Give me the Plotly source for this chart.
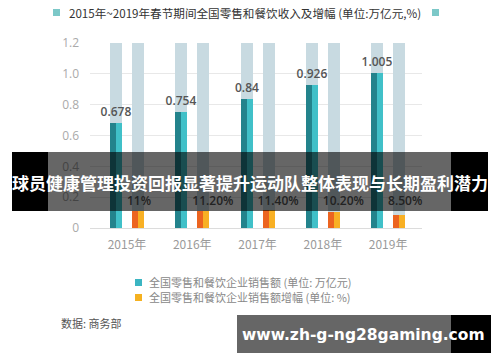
import plotly.graph_objects as go

years = ["2015年", "2016年", "2017年", "2018年", "2019年"]
sales = [0.678, 0.754, 0.84, 0.926, 1.005]          # 万亿元
growth = [11.0, 11.2, 11.4, 10.2, 8.5]              # %
growth_labels = ["11%", "11.20%", "11.40%", "10.20%", "8.50%"]
sales_labels = ["0.678", "0.754", "0.84", "0.926", "1.005"]
y_ticks = [0, 0.2, 0.4, 0.6, 0.8, 1.0, 1.2]
y_ticktext = ["0", "0.2", "0.4", "0.6", "0.8", "1.0", "1.2"]
axis_max = 1.2

title = "2015年~2019年春节期间全国零售和餐饮收入及增幅 (单位:万亿元,%)"
legend_sales = "全国零售和餐饮企业销售额 (单位: 万亿元)"
legend_growth = "全国零售和餐饮企业销售额增幅 (单位: %)"
source = "数据: 商务部"
banner = "球员健康管理投资回报显著提升运动队整体表现与长期盈利潜力"
url = "www.zh-g-ng28gaming.com"

xs = list(range(len(years)))
growth_scaled = [g / 100 for g in growth]
bg = [axis_max] * len(years)

# page offset (body margin) compensation
OFF = 8
FW, FH = 500 - OFF, 362 - OFF
PL, PR, PT, PB = 90 - OFF, 422 - OFF, 43 - OFF, 228 - OFF  # plot box in figure px
PW, PH = PR - PL, PB - PT

BW = 0.184   # full bar width (x units)
HW = BW / 2
T_OFF = -0.26
O_OFF = 0.077

fig = go.Figure()
# background bars
fig.add_bar(x=xs, y=bg, offset=T_OFF, width=BW, marker_color="#c8dae1",
            marker_line_width=0, hoverinfo="skip")
fig.add_bar(x=xs, y=bg, offset=O_OFF, width=BW, marker_color="#c8dae1",
            marker_line_width=0, hoverinfo="skip")
# teal sales bars (dark full + light right half)
fig.add_bar(x=xs, y=sales, offset=T_OFF, width=BW, marker_color="#23838c",
            marker_line_width=0, text=sales_labels, textposition="outside",
            constraintext="none",
            textfont=dict(size=12, color="#555555", family="Open Sans", weight=600),
            cliponaxis=False)
fig.add_bar(x=xs, y=sales, offset=T_OFF + HW, width=HW, marker_color="#40c0c8",
            marker_line_width=0)
# orange growth bars
fig.add_bar(x=xs, y=growth_scaled, offset=O_OFF, width=BW, marker_color="#ec6420",
            marker_line_width=0)
fig.add_bar(x=xs, y=growth_scaled, offset=O_OFF + HW, width=HW, marker_color="#f8b024",
            marker_line_width=0)
# growth labels
fig.add_scatter(x=xs, y=[0.17] * len(xs), mode="text", text=growth_labels,
                textposition="middle right",
                textfont=dict(size=12, color="#555555", family="Open Sans", weight=600),
                cliponaxis=False)

fig.update_layout(
    width=FW, height=FH,
    margin=dict(l=PL, r=FW - PR, t=PT, b=FH - PB),
    paper_bgcolor="white", plot_bgcolor="white",
    barmode="overlay", showlegend=False, bargap=0,
    font=dict(family="Noto Sans CJK SC", color="#999999"),
    xaxis=dict(range=[-0.567, 4.52], tickvals=xs, ticktext=years,
               showgrid=False, zeroline=False, showline=False,
               tickfont=dict(size=12, color="#9a9a9a"), ticks="", ticklabelstandoff=8),
    yaxis=dict(range=[0, axis_max], tickvals=y_ticks, ticktext=y_ticktext,
               showgrid=True, gridcolor="#e8e8e8", gridwidth=1,
               zeroline=True, zerolinecolor="#dcdcdc", zerolinewidth=1,
               showline=False, ticks="", ticklabelstandoff=10,
               tickfont=dict(size=12, color="#aaaaaa", family="Open Sans")),
)


def px_rect(x0, y0, x1, y1, color, layer="above"):
    # coordinates given in page pixels
    x0 -= OFF; x1 -= OFF; y0 -= OFF; y1 -= OFF
    return dict(type="rect", xref="paper", yref="paper",
                x0=(x0 - PL) / PW, x1=(x1 - PL) / PW,
                y0=(PB - y1) / PH, y1=(PB - y0) / PH,
                fillcolor=color, line_width=0, layer=layer)


shapes = [
    px_rect(53, 9, 60, 16, "#7cc8c8"),
    px_rect(432, 9, 439, 16, "#7cc8c8"),
    px_rect(135, 279, 142, 286, "#3bb5c2"),
    px_rect(135, 294, 142, 301, "#f5b120"),
    # banner
    px_rect(12, 152, 48, 211, "#000000"),
    px_rect(48, 152, 451, 211, "rgba(0,0,0,0.6)"),
    px_rect(451, 152, 488, 211, "#000000"),
    # url box
    px_rect(237, 315, 451, 353, "rgba(0,0,0,0.6)"),
    px_rect(451, 315, 491, 353, "#000000"),
]
fig.update_layout(shapes=shapes)


def px_ann(x, y, text, size, color, family="Noto Sans CJK SC", xanchor="left", bold=False):
    x -= OFF; y -= OFF
    if bold:
        text = "<b>" + text + "</b>"
    return dict(xref="paper", yref="paper", x=(x - PL) / PW, y=(PB - y) / PH,
                text=text, showarrow=False, xanchor=xanchor, yanchor="middle",
                font=dict(size=size, color=color, family=family))


anns = [
    px_ann(67, 13, title, 11.6, "#333333"),
    px_ann(147, 282, legend_sales, 11, "#888888"),
    px_ann(147, 297, legend_growth, 11, "#888888"),
    px_ann(59, 323, source, 11, "#555555"),
    px_ann(250, 182, banner, 17, "#ffffff", xanchor="center", bold=True),
    px_ann(363, 335, url, 15.5, "#ffffff", family="DejaVu Sans", xanchor="center", bold=True),
]
fig.update_layout(annotations=anns)

fig.write_html("out.html")
